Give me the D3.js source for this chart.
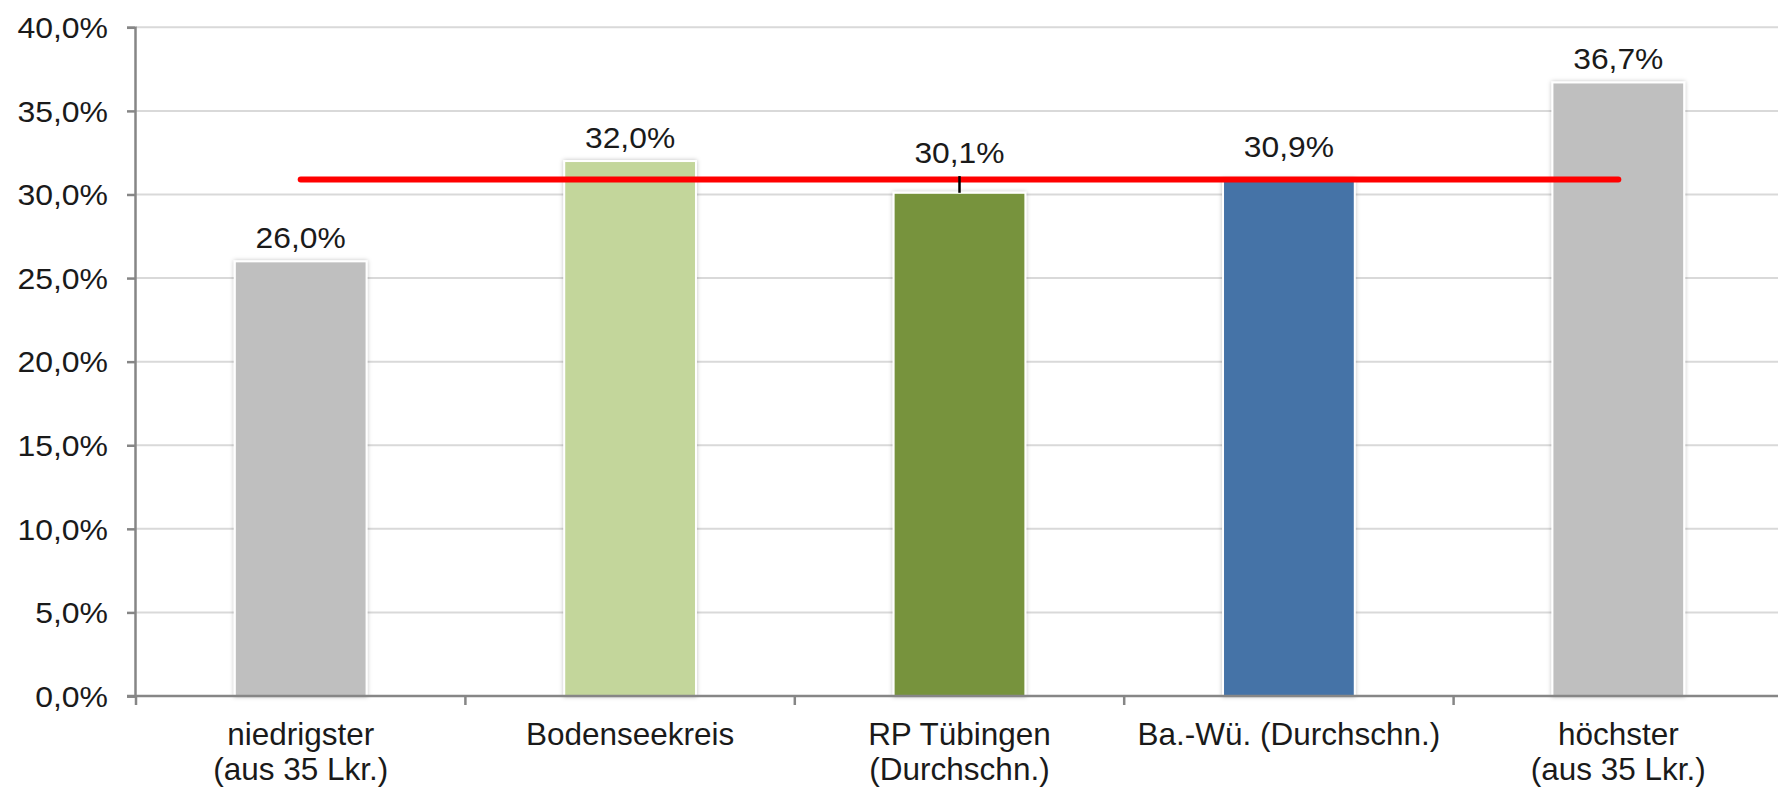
<!DOCTYPE html>
<html>
<head>
<meta charset="utf-8">
<script src="https://cdn.jsdelivr.net/npm/d3@7"></script>
<style>
  html, body { margin: 0; padding: 0; background: #fff; }
  svg { display: block; font-family: "Liberation Sans", Arial, sans-serif; }
</style>
</head>
<body>
<svg id="chart" width="1778" height="789"></svg>
<script>
// ---- data ----
const categories = [
  ["niedrigster", "(aus 35 Lkr.)"],
  ["Bodenseekreis"],
  ["RP Tübingen", "(Durchschn.)"],
  ["Ba.-Wü. (Durchschn.)"],
  ["höchster", "(aus 35 Lkr.)"]
];
const values = [26.0, 32.0, 30.1, 30.9, 36.7];
const barColors = ["#BFBFBF", "#C3D69B", "#77933C", "#4573A7", "#BFBFBF"];
const averageLine = 30.9;          // Ba.-Wü. average (red line)
const errorTop = [null, null, 31.1, null, null]; // small black line on RP Tübingen
const yTicks = [0, 5, 10, 15, 20, 25, 30, 35, 40];

// ---- layout ----
const svg = d3.select("#chart");
const plotLeft = 136, plotRight = 1783, plotTop = 27.3, plotBottom = 696;

const x = d3.scaleBand()
  .domain(d3.range(categories.length))
  .range([plotLeft, plotRight])
  .paddingInner(0.6)
  .paddingOuter(0.3);
const y = d3.scaleLinear().domain([0, 40]).range([plotBottom, plotTop]);
const fmt = v => v.toFixed(1).replace(".", ",") + "%";
const widen = (sel, k) => sel.each(function() {
  const w = this.getComputedTextLength();
  d3.select(this).attr("textLength", w * k).attr("lengthAdjust", "spacingAndGlyphs");
});

const defs = svg.append("defs");
const f = defs.append("filter").attr("id", "shadow")
  .attr("x", "-20%").attr("y", "-20%").attr("width", "140%").attr("height", "140%");
f.append("feDropShadow").attr("dx", 0).attr("dy", 0).attr("stdDeviation", 2)
  .attr("flood-color", "#000").attr("flood-opacity", 0.25);

// gridlines
svg.append("g").selectAll("line").data(yTicks.filter(d => d > 0)).join("line")
  .attr("x1", plotLeft).attr("x2", 1778)
  .attr("y1", d => y(d)).attr("y2", d => y(d))
  .attr("stroke", "#D9D9D9").attr("stroke-width", 2);

// y axis
const yAxis = svg.append("g").attr("transform", `translate(${plotLeft - 1},0)`)
  .call(d3.axisLeft(y).tickValues(yTicks).tickFormat(fmt).tickSize(8).tickPadding(19));
yAxis.select(".domain").attr("stroke", "#868686").attr("stroke-width", 2.5);
yAxis.selectAll(".tick line").attr("stroke", "#868686").attr("stroke-width", 2.5);
yAxis.selectAll(".tick text").attr("font-size", 30).attr("fill", "#1a1a1a")
  .attr("font-family", "Liberation Sans, Arial, sans-serif").attr("dy", "0.34em")
  .call(widen, 1.065);

// bars
svg.append("g").selectAll("rect").data(values).join("rect")
  .attr("x", (d, i) => x(i))
  .attr("y", d => y(d))
  .attr("width", x.bandwidth())
  .attr("height", d => y(0) - y(d))
  .attr("fill", (d, i) => barColors[i])
  .attr("stroke", "#fff").attr("stroke-width", 2)
  .attr("filter", "url(#shadow)");

// x axis line
svg.append("line")
  .attr("x1", plotLeft - 9).attr("x2", 1778)
  .attr("y1", y(0)).attr("y2", y(0))
  .attr("stroke", "#868686").attr("stroke-width", 2.5);

// category boundary ticks
const step = x.step();
const bounds = d3.range(categories.length + 1).map(i => x(0) - (step - x.bandwidth()) / 2 + i * step);
svg.append("g").selectAll("line").data(bounds.filter(b => b <= 1778)).join("line")
  .attr("x1", d => d).attr("x2", d => d)
  .attr("y1", y(0)).attr("y2", y(0) + 9)
  .attr("stroke", "#868686").attr("stroke-width", 2.5);

// category labels
const cat = svg.append("g").selectAll("text").data(categories).join("text")
  .attr("text-anchor", "middle")
  .attr("font-size", 31.5)
  .attr("fill", "#1a1a1a");
cat.each(function(lines, i) {
  d3.select(this).selectAll("tspan").data(lines).join("tspan")
    .attr("x", x(i) + x.bandwidth() / 2)
    .attr("y", (l, j) => 745 + j * 35)
    .text(l => l);
});

// red average line
svg.append("line")
  .attr("x1", x(0) + x.bandwidth() / 2)
  .attr("x2", x(categories.length - 1) + x.bandwidth() / 2)
  .attr("y1", y(averageLine)).attr("y2", y(averageLine))
  .attr("stroke", "#FF0000").attr("stroke-width", 6)
  .attr("stroke-linecap", "round");

// black error line
svg.append("g").selectAll("line").data(values.map((v, i) => ({v, i, t: errorTop[i]})).filter(d => d.t != null))
  .join("line")
  .attr("x1", d => x(d.i) + x.bandwidth() / 2).attr("x2", d => x(d.i) + x.bandwidth() / 2)
  .attr("y1", d => y(d.v)).attr("y2", d => y(d.t))
  .attr("stroke", "#000").attr("stroke-width", 2.5);

// data labels
const anchorVal = (v, i) => {
  if (errorTop[i] != null) return errorTop[i];
  if (Math.abs(v - averageLine) < 0.5) return Math.max(v, averageLine) + 0.55;
  return v;
};
svg.append("g").selectAll("text").data(values).join("text")
  .attr("x", (d, i) => x(i) + x.bandwidth() / 2)
  .attr("y", (d, i) => y(anchorVal(d, i)) - 13)
  .attr("text-anchor", "middle")
  .attr("font-size", 30)
  .attr("fill", "#1a1a1a")
  .text(d => fmt(d))
  .call(widen, 1.06);
</script>
</body>
</html>
